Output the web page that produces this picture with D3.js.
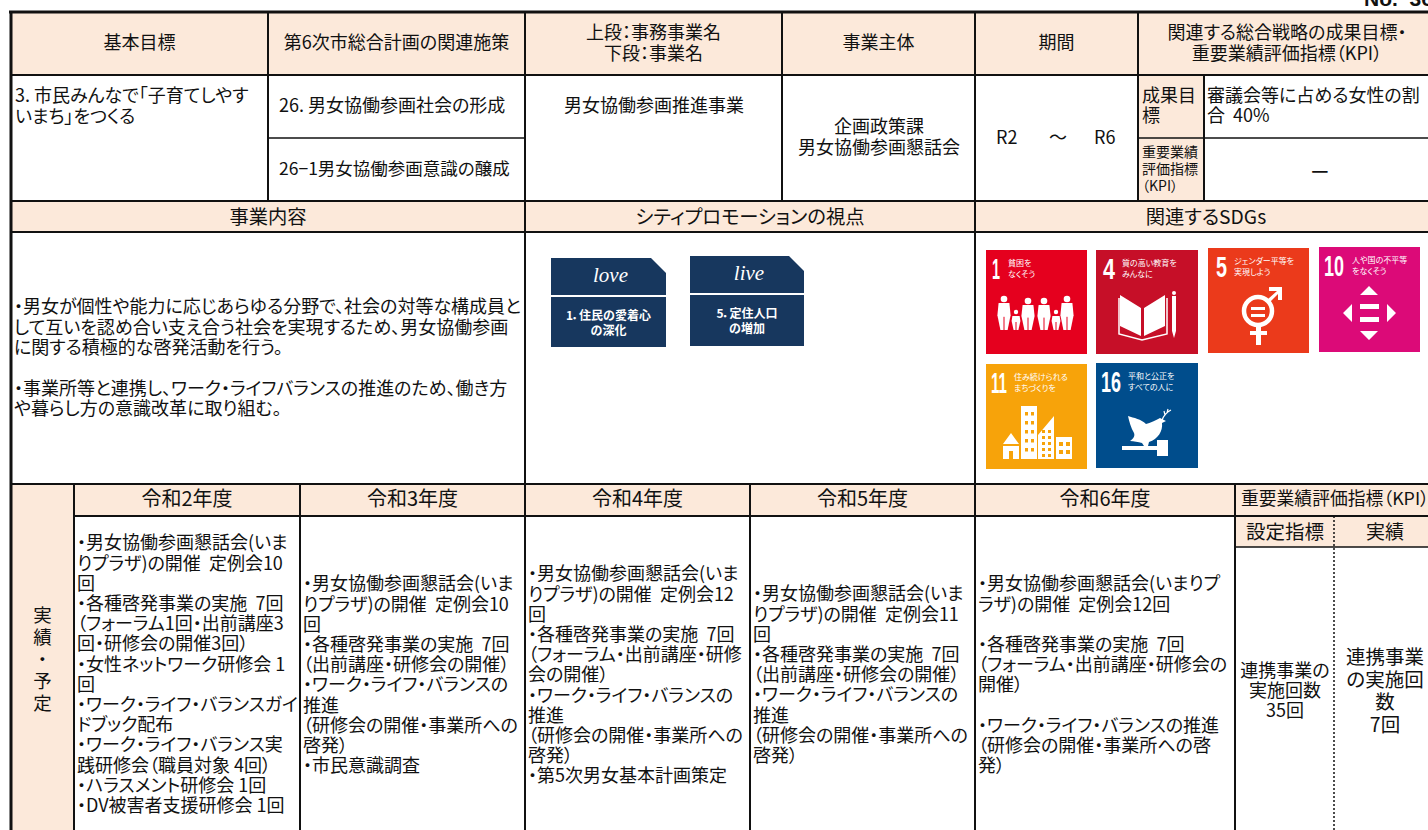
<!DOCTYPE html>
<html lang="ja">
<head>
<meta charset="UTF-8" />
<title>事業シート</title>
<script src="https://cdn.jsdelivr.net/npm/d3@7/dist/d3.min.js"></script>
<style>
  html, body { margin: 0; padding: 0; background: #fff; overflow: hidden; }
  svg { display: block; }
  text { font-family: "Noto Sans CJK JP", sans-serif; fill: #111; font-feature-settings: "palt" 1; white-space: pre; }
  tspan.dot { font-weight: 900; }
</style>
</head>
<body>
<script>
// text of the sheet
var topHeaders = [["基本目標"], ["第6次市総合計画の関連施策"], ["上段：事務事業名", "下段：事業名"], ["事業主体"], ["期間"], ["関連する総合戦略の成果目標･", "重要業績評価指標（KPI）"]];
var goalText = ["3. 市民みんなで「子育てしやす", "いまち」をつくる"];
var policyText = ["26. 男女協働参画社会の形成", "26−1男女協働参画意識の醸成"];
var projectName = ["男女協働参画推進事業"];
var ownerText = ["企画政策課", "男女協働参画懇話会"];
var sectionHeaders = ["事業内容", "シティプロモーションの視点", "関連するSDGs"];
var contentText = ["･男女が個性や能力に応じあらゆる分野で、社会の対等な構成員と", "して互いを認め合い支え合う社会を実現するため、男女協働参画", "に関する積極的な啓発活動を行う。", "", "･事業所等と連携し、ワーク･ライフバランスの推進のため、働き方", "や暮らし方の意識改革に取り組む。"];
var yearHeaders = ["令和2年度", "令和3年度", "令和4年度", "令和5年度", "令和6年度"];
var yearTexts = [
  ["･男女協働参画懇話会(いま", "りプラザ)の開催  定例会10", "回", "･各種啓発事業の実施  7回", "（フォーラム1回･出前講座3", "回･研修会の開催3回）", "･女性ネットワーク研修会 1", "回", "･ワーク･ライフ･バランスガイ", "ドブック配布", "･ワーク･ライフ･バランス実", "践研修会（職員対象 4回）", "･ハラスメント研修会 1回", "･DV被害者支援研修会 1回"],
  ["･男女協働参画懇話会(いま", "りプラザ)の開催  定例会10", "回", "･各種啓発事業の実施  7回", "（出前講座･研修会の開催）", "･ワーク･ライフ･バランスの", "推進", "（研修会の開催･事業所への", "啓発）", "･市民意識調査"],
  ["･男女協働参画懇話会(いま", "りプラザ)の開催  定例会12", "回", "･各種啓発事業の実施  7回", "（フォーラム･出前講座･研修", "会の開催）", "･ワーク･ライフ･バランスの", "推進", "（研修会の開催･事業所への", "啓発）", "･第5次男女基本計画策定"],
  ["･男女協働参画懇話会(いま", "りプラザ)の開催  定例会11", "回", "･各種啓発事業の実施  7回", "（出前講座･研修会の開催）", "･ワーク･ライフ･バランスの", "推進", "（研修会の開催･事業所への", "啓発）"],
  ["･男女協働参画懇話会(いまりプ", "ラザ)の開催  定例会12回", "", "･各種啓発事業の実施  7回", "（フォーラム･出前講座･研修会の", "開催）", "", "･ワーク･ライフ･バランスの推進", "（研修会の開催･事業所への啓", "発）"]
];
var yearSideLabel = ["実", "績", "･", "予", "定"];
var kpiHeaders = ["設定指標", "実績"];
var kpiTarget = ["連携事業の", "実施回数", "35回"];
var kpiActual = ["連携事業", "の実施回", "数", "7回"];
var sdgNumbers = ["1", "4", "5", "10", "11", "16"];
var sdgLabels = [["貧困を", "なくそう"], ["質の高い教育を", "みんなに"], ["ジェンダー平等を", "実現しよう"], ["人や国の不平等", "をなくそう"], ["住み続けられる", "まちづくりを"], ["平和と公正を", "すべての人に"]];
var sdgColors = ["#e5001e", "#c60f28", "#eb3a1b", "#dc0a78", "#f7a30a", "#004d8c"];
var promoWords = ["love", "live"];
var promoLabels = [["1．住民の愛着心", "の深化"], ["5．定住人口", "の増加"]];

// layout
var W = 1428, H = 830, FS = 18;
var headFill = "#fce9da", ink = "#111";
var rowY = { top: 12, r1: 75, mid: 138, r2: 201, r3: 232, r4: 484, r5: 516, r6: 547 };
var topEdges = [11, 268, 525, 782, 975, 1138, W + 2];
var sectionEdges = [11, 525, 975, W + 2];
var yearEdges = [74, 300, 525, 750, 975, 1235];
var yearFirstLine = [543, 584, 574, 594, 584];
var sdgBoxes = [[986, 250, 101, 104], [1096, 250, 102, 104], [1208, 248, 101, 105], [1319, 247, 101, 105], [986, 364, 101, 105], [1096, 363, 102, 105]];
var sdgNumPos = [[6, 8], [7, 12], [8, 11], [5, 20], [5, 16], [5, 20]];
var sdgTextX = [22, 26, 26, 33, 28, 32];
var promoBoxes = [[551, 258, 115, 37, 297, 50], [690, 256, 114, 37, 295, 51]];

var svg = d3.select("body").append("svg").attr("width", W).attr("height", H);

svg.append("text").attr("x", 1364).attr("y", 6).attr("font-size", 21).attr("font-weight", 700)
  .style("font-family", "'Liberation Sans'").text("No.  36");

function fillRect(x0, y0, x1, y1, c) {
  svg.append("rect").attr("x", x0).attr("y", y0).attr("width", x1 - x0).attr("height", y1 - y0).attr("fill", c || headFill);
}
function rule(x0, y0, x1, y1, w, dash) {
  svg.append("line").attr("x1", x0).attr("y1", y0).attr("x2", x1).attr("y2", y1)
    .attr("stroke", ink).attr("stroke-width", w || 2).attr("stroke-dasharray", dash || null);
}
// lines of text, y is the vertical centre of the first line
function block(lines, x, y, size, lh, anchor, parent, color) {
  return (parent || svg).append("g").selectAll("text").data(lines).join("text")
    .attr("x", x)
    .attr("y", function(d, i) { return y + i * lh; })
    .attr("dy", "0.36em")
    .attr("font-size", size)
    .attr("text-anchor", anchor || "start")
    .style("fill", color || null)
    .each(function(d) {
      // the separator dots are set heavier than the words round them
      var t = d3.select(this);
      d.split(/(･)/).forEach(function(part) {
        if (part) t.append("tspan").classed("dot", part == "･").text(part);
      });
    });
}
function centred(lines, x, cy, size, lh, parent) {
  return block(lines, x, cy - (lines.length - 1) * lh / 2, size, lh, "middle", parent);
}

// filled cells
fillRect(11, rowY.top, W, rowY.r1);
fillRect(11, rowY.r2, W, rowY.r3);
fillRect(11, rowY.r4, 74, H);
fillRect(74, rowY.r4, W, rowY.r5);
fillRect(1235, rowY.r5, W, rowY.r6);
fillRect(1138, rowY.r1, 1204, rowY.r2);

// header rows
d3.pairs(topEdges).forEach(function(p, i) {
  var cx = i == 5 ? 1287 : (p[0] + p[1]) / 2;
  centred(topHeaders[i], cx, 43, FS, 20.5);
});
block(goalText, 15, 96, FS, 20.5);
block([policyText[0]], 279, 106, FS, 20);
block([policyText[1]], 279, 169, 17.5, 20);
centred(projectName, 654, 106, FS, 20);
centred(ownerText, 879, 137, FS, 21);

svg.append("text").attr("x", 996).attr("y", 138).attr("dy", "0.36em").attr("font-size", FS).text("R2");
svg.append("text").attr("x", 1049).attr("y", 138).attr("dy", "0.36em").attr("font-size", FS).text("〜");
svg.append("text").attr("x", 1094).attr("y", 138).attr("dy", "0.36em").attr("font-size", FS).text("R6");

block(["成果目", "標"], 1142, 96, FS, 20);
block(["審議会等に占める女性の割", "合  40%"], 1207, 96, FS, 20);
block(["重要業績", "評価指標", "（KPI）"], 1142, 152, 14, 17);
centred(["—"], 1320, 170, 19, 20).style("font-weight", 700);

d3.pairs(sectionEdges).forEach(function(p, i) {
  var cx = i == 2 ? 1206 : (p[0] + p[1]) / 2;
  centred([sectionHeaders[i]], cx, 217, 19.3, 20);
});
block(contentText, 14, 307, FS, 20.4);

// promotion cards
promoBoxes.forEach(function(b, i) {
  var g = svg.append("g");
  var cut = 15;
  g.append("path").attr("fill", "#17375e")
    .attr("d", d3.line()([[b[0], b[1]], [b[0] + b[2] - cut, b[1]], [b[0] + b[2], b[1] + cut], [b[0] + b[2], b[1] + b[3]], [b[0], b[1] + b[3]]]) + "Z");
  g.append("rect").attr("fill", "#17375e").attr("x", b[0]).attr("y", b[4]).attr("width", b[2]).attr("height", b[5]);
  g.append("text").attr("x", b[0] + b[2] / 2 + 2).attr("y", b[1] + 24).attr("text-anchor", "middle")
    .attr("font-size", 21).style("font-family", "'Liberation Serif'").style("font-style", "italic")
    .style("fill", "#fff").text(promoWords[i]);
  block(promoLabels[i], b[0] + b[2] / 2, b[4] + 19, 12, 15, "middle", g, "#fff").style("font-weight", 700);
});

// SDG tiles, pictograms drawn in tile pixels
var pictograms = [
  function(g, c) { // family
    [[18, 47, 33, 6], [30, 60, 20, 4], [42, 49, 31, 6], [58, 49, 31, 6], [70, 60, 20, 4], [81, 47, 33, 6]].forEach(function(p) {
      g.append("circle").attr("cx", p[0]).attr("cy", p[1] + 2).attr("r", p[3] * 0.55).attr("fill", "#fff");
      g.append("path").attr("fill", "#fff").attr("d",
        d3.line()([[p[0] - p[3] * 0.9, p[1] + 6], [p[0] + p[3] * 0.9, p[1] + 6], [p[0] + p[3] * 1.1, p[1] + p[2] * 0.55], [p[0] + p[3] * 0.6, p[1] + p[2]], [p[0] - p[3] * 0.6, p[1] + p[2]], [p[0] - p[3] * 1.1, p[1] + p[2] * 0.55]]) + "Z");
      g.append("rect").attr("x", p[0] - 0.5).attr("y", p[1] + p[2] * 0.6).attr("width", 1).attr("height", p[2] * 0.4).attr("fill", c);
    });
  },
  function(g, c) { // book and pencil
    g.append("path").attr("fill", "#fff").attr("d", "M24 45L45 58V86L24 76ZM48 58L69 45V76L48 86Z");
    g.append("path").attr("fill", "none").attr("stroke", "#fff").attr("stroke-width", 1.5).attr("d", "M23 48V84L46 90L71 84V48");
    g.append("path").attr("fill", "#fff").attr("d", "M76 46H80V81L78 88L76 81Z");
    g.append("circle").attr("cx", 78).attr("cy", 43).attr("r", 2).attr("fill", "#fff");
  },
  function(g, c) { // gender equality
    g.append("circle").attr("cx", 50).attr("cy", 63).attr("r", 14).attr("fill", "none").attr("stroke", "#fff").attr("stroke-width", 4.5);
    g.append("path").attr("fill", "#fff").attr("d", "M43 59H57V62H43ZM43 66H57V69H43ZM48 78H53V83H59V87H53V97H48V87H42V83H48Z");
    g.append("path").attr("fill", "#fff").attr("d", "M60 51L69 43H61V39H74V52H70V46L62 54Z");
  },
  function(g, c) { // reduced inequalities
    g.append("path").attr("fill", "#fff").attr("d", "M50 39L59 48H41ZM41 57H60V62H41ZM41 70H60V75H41ZM24 66L33 57V75ZM77 66L68 57V75ZM41 84H59L50 93Z");
  },
  function(g, c) { // city
    g.append("path").attr("fill", "#fff").attr("d", "M25 69L33 80H17ZM17 82H33V95H27V87H23V95H17ZM35 42H51V95H35ZM52 95V71L68 52V95ZM70 73H86V95H70Z");
    var win = [];
    d3.range(48, 92, 9).forEach(function(y) { win.push([39, y, 3, 3.5]); win.push([45, y, 3, 3.5]); });
    d3.range(66, 93, 6).forEach(function(y) { win.push([56, y, 3, 3]); win.push([62, y, 3, 3]); });
    [78, 86].forEach(function(y) { win.push([73, y, 4, 4]); win.push([80, y, 4, 4]); });
    g.selectAll("rect.win").data(win).join("rect").attr("class", "win")
      .attr("x", function(d) { return d[0]; }).attr("y", function(d) { return d[1]; })
      .attr("width", function(d) { return d[2]; }).attr("height", function(d) { return d[3]; }).attr("fill", c);
  },
  function(g, c) { // dove and gavel
    g.append("path").attr("fill", "#fff").attr("d", "M32 53C38 55 45 56 50 61C54 60 60 57 64 55L70 58L66 60C67 68 62 76 53 79L52 83H48L46 80C42 79 38 78 34 78C38 75 39 73 38 70C35 65 33 58 32 53Z");
    g.append("path").attr("fill", "none").attr("stroke", "#fff").attr("stroke-width", 1.2).attr("d", "M66 57C68 52 71 49 75 47M69 52L68 48M71 50L72 46");
    g.append("path").attr("fill", "#fff").attr("d", "M26 83H61V77H72V93H61V87H26Z");
  }
];

sdgBoxes.forEach(function(b, i) {
  var g = svg.append("g").attr("transform", "translate(" + b[0] + "," + b[1] + ")");
  g.append("rect").attr("width", b[2]).attr("height", b[3]).attr("fill", sdgColors[i]);
  g.append("text").attr("x", sdgNumPos[i][0]).attr("y", 29).attr("font-size", 29).attr("font-weight", 700)
    .attr("textLength", sdgNumPos[i][1]).attr("lengthAdjust", "spacingAndGlyphs")
    .style("font-family", "'Liberation Sans'").style("fill", "#fff").text(sdgNumbers[i]);
  block(sdgLabels[i], sdgTextX[i], 13, 8, 11.5, "start", g, "#fff");
  pictograms[i](g, sdgColors[i]);
});

// yearly rows
d3.pairs(yearEdges).forEach(function(p, i) {
  centred([yearHeaders[i]], (p[0] + p[1]) / 2, 499, 20, 20);
  block(yearTexts[i], p[0] + 3, yearFirstLine[i], FS, 20.2);
});
block(yearSideLabel, 42.5, 615, 18.5, 22, "middle");
block(["重要業績評価指標（KPI）"], 1241, 499, 17.8, 20);
centred([kpiHeaders[0]], 1285, 532, 19.5, 20);
centred([kpiHeaders[1]], 1385, 532, 19, 20);
centred(kpiTarget, 1285, 691, FS, 20);
centred(kpiActual, 1385, 691, 19.5, 22.7);

// rules
rule(9, rowY.top, W, rowY.top, 3);
rule(11, rowY.top, 11, H, 3);
rule(11, rowY.r1, W, rowY.r1, 2);
rule(268, rowY.mid, 525, rowY.mid, 1.5);
rule(1138, rowY.mid, W, rowY.mid, 1.5);
rule(11, rowY.r2, W, rowY.r2, 2);
rule(11, rowY.r3, W, rowY.r3, 2);
rule(11, rowY.r4, W, rowY.r4, 2);
rule(74, rowY.r5, W, rowY.r5, 2);
rule(1235, rowY.r6, W, rowY.r6, 1.5);
topEdges.slice(1, 6).forEach(function(x) { rule(x, rowY.top, x, rowY.r2, 2); });
rule(1204, rowY.r1, 1204, rowY.r2, 2);
rule(525, rowY.r2, 525, rowY.r4, 2);
rule(975, rowY.r2, 975, rowY.r4, 2);
yearEdges.forEach(function(x) { rule(x, rowY.r4, x, H, 2); });
rule(1334, rowY.r5, 1334, H, 1.5, "2,2");
</script>
</body>
</html>
